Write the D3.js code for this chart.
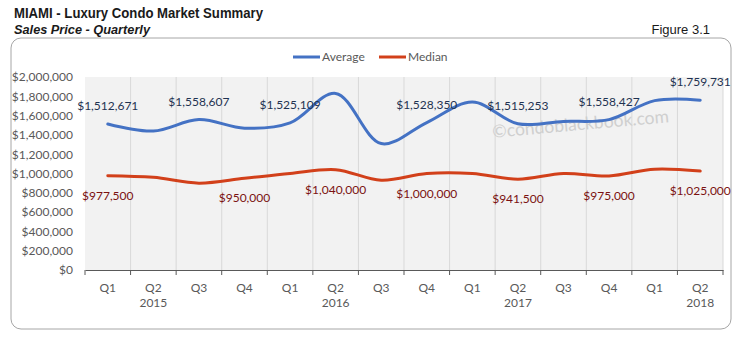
<!DOCTYPE html>
<html>
<head>
<meta charset="utf-8">
<script src="https://cdn.jsdelivr.net/npm/d3@7"></script>
<style>
  html, body { margin: 0; padding: 0; background: #fff; }
  svg { display: block; }
</style>
</head>
<body>
<svg id="chart" width="736" height="343"></svg>
<script>
// Quarterly sales price, Miami luxury condos
const quarters = ["Q1","Q2","Q3","Q4","Q1","Q2","Q3","Q4","Q1","Q2","Q3","Q4","Q1","Q2"];
const years = ["2015","2015","2015","2015","2016","2016","2016","2016","2017","2017","2017","2017","2018","2018"];
const averagePrice = [1512671, 1440000, 1558607, 1470000, 1525109, 1830000, 1310000, 1528350, 1740000, 1515253, 1540000, 1558427, 1755000, 1759731];
const medianPrice = [977500, 960000, 900000, 950000, 1000000, 1040000, 930000, 1000000, 1000000, 941500, 1000000, 975000, 1045000, 1025000];
// Indices of the quarters whose value is printed on the chart
const averageLabelIdx = [0, 2, 4, 7, 9, 11, 13];
const medianLabelIdx = [0, 3, 5, 7, 9, 11, 13];
const yTicks = [0, 200000, 400000, 600000, 800000, 1000000, 1200000, 1400000, 1600000, 1800000, 2000000];

const svg = d3.select("#chart");
const plot = { left: 85, right: 723, top: 77, bottom: 270 };
const labelFont = "Lato, 'Open Sans', sans-serif";

const idx = d3.range(quarters.length);
const x = d3.scaleBand().domain(idx).range([plot.left, plot.right]).padding(0);
const y = d3.scaleLinear().domain([0, 2000000]).range([plot.bottom, plot.top]);
const cx = i => x(i) + x.bandwidth() / 2;
const money = d3.format("$,.0f");

// Titles
svg.append("text").attr("x", 14).attr("y", 18)
  .attr("font-family", "Arial, 'Liberation Sans', sans-serif").attr("font-weight", "bold")
  .attr("font-size", 14.5).attr("fill", "#1a1a1a")
  .attr("textLength", 249).attr("lengthAdjust", "spacingAndGlyphs")
  .text("MIAMI - Luxury Condo Market Summary");
svg.append("text").attr("x", 14).attr("y", 34)
  .attr("font-family", "Arial, 'Liberation Sans', sans-serif").attr("font-weight", "bold")
  .attr("font-style", "italic").attr("font-size", 13.5).attr("fill", "#1a1a1a")
  .attr("textLength", 136).attr("lengthAdjust", "spacingAndGlyphs")
  .text("Sales Price - Quarterly");
svg.append("text").attr("x", 710).attr("y", 34).attr("text-anchor", "end")
  .attr("font-family", "Arial, 'Liberation Sans', sans-serif")
  .attr("font-size", 13).attr("fill", "#1a1a1a")
  .text("Figure 3.1");

// Chart frame
svg.append("rect").attr("x", 11).attr("y", 38).attr("width", 720).attr("height", 291)
  .attr("rx", 10).attr("ry", 10)
  .attr("fill", "#fff").attr("stroke", "#a6a6a6").attr("stroke-width", 1);

// Plot background
svg.append("rect").attr("x", plot.left).attr("y", plot.top)
  .attr("width", plot.right - plot.left).attr("height", plot.bottom - plot.top)
  .attr("fill", "#f2f2f2");

// Vertical gridlines at category boundaries
const bounds = idx.slice(1).map(i => x(i)).concat([plot.right]);
svg.append("g").selectAll("line").data(bounds).join("line")
  .attr("x1", d => d).attr("x2", d => d)
  .attr("y1", plot.top).attr("y2", plot.bottom)
  .attr("stroke", "#d9d9d9").attr("stroke-width", 1);

// Y axis labels
const yAxis = d3.axisLeft(y).tickValues(yTicks).tickSize(0).tickPadding(12).tickFormat(money);
const gy = svg.append("g").attr("transform", `translate(${plot.left},0)`).call(yAxis);
gy.select(".domain").remove();
gy.selectAll("text").attr("font-family", labelFont).attr("font-size", 12).attr("fill", "#595959");

// X axis with quarter and year labels
const xAxis = d3.axisBottom(x).tickSize(0).tickFormat(() => "");
const gx = svg.append("g").attr("transform", `translate(0,${plot.bottom})`).call(xAxis);
gx.select(".domain").attr("stroke", "#595959");
gx.selectAll(".tick").remove();
const tickPos = idx.map(i => x(i)).concat([plot.right]);
gx.selectAll("line.qt").data(tickPos).join("line").attr("class", "qt")
  .attr("x1", d => d).attr("x2", d => d).attr("y1", 0).attr("y2", 5)
  .attr("stroke", "#595959");
gx.selectAll("text.q").data(idx).join("text").attr("class", "q")
  .attr("x", i => cx(i)).attr("y", 22).attr("text-anchor", "middle")
  .attr("font-family", labelFont).attr("font-size", 12).attr("fill", "#595959")
  .text(i => quarters[i]);
gx.selectAll("text.yr").data(idx.filter(i => quarters[i] === "Q2")).join("text").attr("class", "yr")
  .attr("x", i => cx(i)).attr("y", 37).attr("text-anchor", "middle")
  .attr("font-family", labelFont).attr("font-size", 12).attr("fill", "#595959")
  .text(i => years[i]);

// Watermark
svg.append("text").attr("transform", "translate(581,130) rotate(-5)")
  .attr("text-anchor", "middle").attr("font-family", labelFont)
  .attr("font-size", 17.5).attr("fill", "#cfcfcf")
  .text("©condoblackbook.com");

// Series
const series = [
  { name: "Average", values: averagePrice, color: "#4472c4", labelColor: "#1f3251", labels: averageLabelIdx, dy: -14 },
  { name: "Median", values: medianPrice, color: "#d2401a", labelColor: "#7b1111", labels: medianLabelIdx, dy: 24 }
];
const line = d3.line().x((d, i) => cx(i)).y(d => y(d)).curve(d3.curveCatmullRom.alpha(0.5));

series.forEach(s => {
  svg.append("path").datum(s.values).attr("d", line)
    .attr("fill", "none").attr("stroke", s.color).attr("stroke-width", 3)
    .attr("stroke-linecap", "round").attr("stroke-linejoin", "round");
  svg.append("g").selectAll("text").data(s.labels).join("text")
    .attr("x", i => cx(i)).attr("y", i => y(s.values[i]) + s.dy)
    .attr("text-anchor", "middle").attr("font-family", labelFont)
    .attr("font-size", 12).attr("fill", s.labelColor)
    .text(i => money(s.values[i]));
});

// Legend
const legend = svg.append("g").attr("transform", "translate(293,57)");
const legendItems = [{ s: series[0], x: 0 }, { s: series[1], x: 86 }];
legendItems.forEach(it => {
  legend.append("line").attr("x1", it.x).attr("x2", it.x + 27).attr("y1", 0).attr("y2", 0)
    .attr("stroke", it.s.color).attr("stroke-width", 3);
  legend.append("text").attr("x", it.x + 29).attr("y", 4)
    .attr("font-family", labelFont).attr("font-size", 12).attr("fill", "#595959")
    .text(it.s.name);
});
</script>
</body>
</html>
